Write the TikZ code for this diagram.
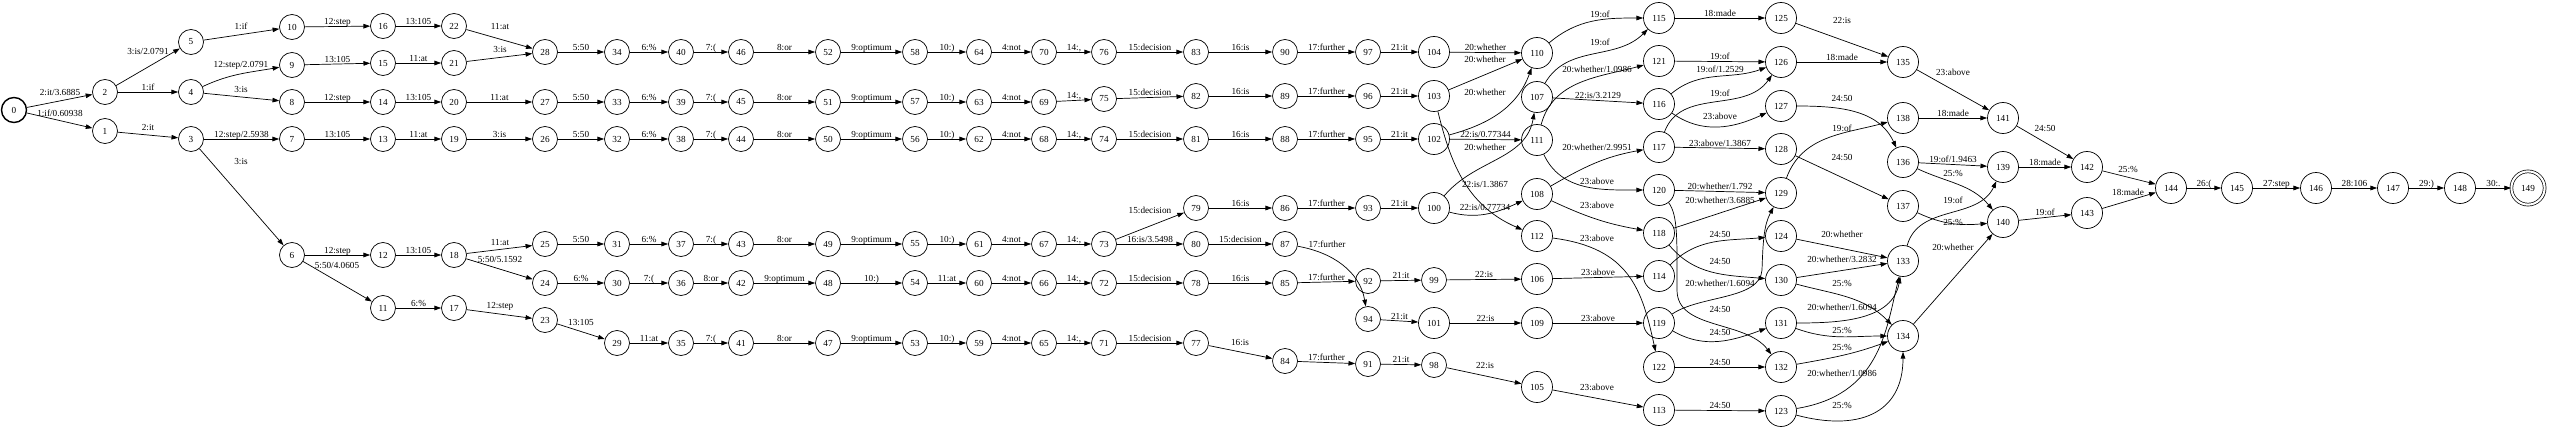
\documentclass[tikz,border=0pt]{standalone}
\usepackage{fontspec}
\setmainfont{Liberation Serif}
\usetikzlibrary{arrows.meta}
\tikzset{
  st/.style={circle, draw, line width=0.8pt, minimum size=1cm, inner sep=0pt, font=\fontsize{10.5}{12}\selectfont},
  stw/.style={st, minimum size=1.24cm},
  init/.style={st, line width=1.6pt},
  fin/.style={stw, minimum size=1.33cm, double, double distance=2.4pt},
  tr/.style={line width=0.8pt, -{Triangle[length=7.6pt,width=5.2pt]}},
  lab/.style={anchor=base, yshift=2pt, inner sep=0pt, font=\fontsize{10.5}{12}\selectfont},
  lb/.style={inner sep=0pt, font=\fontsize{10.5}{12}\selectfont}
}
\begin{document}
\begin{tikzpicture}[x=0.04cm, y=0.04cm]
    \useasboundingbox (0,0) rectangle (2550,-429);
    % states, column by column
    \node[init] (n0) at (14,-110) {0};
    \node[st] (n2) at (105,-92) {2};
    \node[st] (n1) at (105,-131) {1};
    \node[st] (n5) at (191,-42) {5};
    \node[st] (n4) at (191,-92) {4};
    \node[st] (n3) at (191,-139) {3};
    \node[st] (n10) at (292,-27) {10};
    \node[st] (n9) at (292,-65) {9};
    \node[st] (n8) at (292,-102) {8};
    \node[st] (n7) at (292,-139) {7};
    \node[st] (n6) at (292,-255) {6};
    \node[st] (n16) at (383,-26) {16};
    \node[st] (n15) at (383,-63) {15};
    \node[st] (n14) at (383,-102) {14};
    \node[st] (n13) at (383,-139) {13};
    \node[st] (n12) at (383,-255) {12};
    \node[st] (n11) at (383,-308) {11};
    \node[st] (n22) at (454,-26) {22};
    \node[st] (n21) at (454,-63) {21};
    \node[st] (n20) at (454,-102) {20};
    \node[st] (n19) at (454,-139) {19};
    \node[st] (n18) at (454,-255) {18};
    \node[st] (n17) at (454,-308) {17};
    \node[st] (n28) at (545,-52) {28};
    \node[st] (n27) at (545,-102) {27};
    \node[st] (n26) at (545,-139) {26};
    \node[st] (n25) at (545,-244) {25};
    \node[st] (n24) at (545,-283) {24};
    \node[st] (n23) at (545,-320) {23};
    \node[st] (n34) at (617,-52) {34};
    \node[st] (n33) at (617,-102) {33};
    \node[st] (n32) at (617,-139) {32};
    \node[st] (n31) at (617,-244) {31};
    \node[st] (n30) at (617,-283) {30};
    \node[st] (n29) at (617,-343) {29};
    \node[st] (n40) at (681,-52) {40};
    \node[st] (n39) at (681,-102) {39};
    \node[st] (n38) at (681,-139) {38};
    \node[st] (n37) at (681,-244) {37};
    \node[st] (n36) at (681,-283) {36};
    \node[st] (n35) at (681,-343) {35};
    \node[st] (n46) at (741,-52) {46};
    \node[st] (n45) at (741,-102) {45};
    \node[st] (n44) at (741,-139) {44};
    \node[st] (n43) at (741,-244) {43};
    \node[st] (n42) at (741,-283) {42};
    \node[st] (n41) at (741,-343) {41};
    \node[st] (n52) at (828,-52) {52};
    \node[st] (n51) at (828,-102) {51};
    \node[st] (n50) at (828,-139) {50};
    \node[st] (n49) at (828,-244) {49};
    \node[st] (n48) at (828,-283) {48};
    \node[st] (n47) at (828,-343) {47};
    \node[st] (n58) at (915,-52) {58};
    \node[st] (n57) at (915,-102) {57};
    \node[st] (n56) at (915,-139) {56};
    \node[st] (n55) at (915,-244) {55};
    \node[st] (n54) at (915,-283) {54};
    \node[st] (n53) at (915,-343) {53};
    \node[st] (n64) at (979,-52) {64};
    \node[st] (n63) at (979,-102) {63};
    \node[st] (n62) at (979,-139) {62};
    \node[st] (n61) at (979,-244) {61};
    \node[st] (n60) at (979,-283) {60};
    \node[st] (n59) at (979,-343) {59};
    \node[st] (n70) at (1044,-52) {70};
    \node[st] (n69) at (1044,-102) {69};
    \node[st] (n68) at (1044,-139) {68};
    \node[st] (n67) at (1044,-244) {67};
    \node[st] (n66) at (1044,-283) {66};
    \node[st] (n65) at (1044,-343) {65};
    \node[st] (n76) at (1104,-52) {76};
    \node[st] (n75) at (1104,-99) {75};
    \node[st] (n74) at (1104,-139) {74};
    \node[st] (n73) at (1104,-244) {73};
    \node[st] (n72) at (1104,-283) {72};
    \node[st] (n71) at (1104,-343) {71};
    \node[st] (n83) at (1196,-52) {83};
    \node[st] (n82) at (1196,-96) {82};
    \node[st] (n81) at (1196,-139) {81};
    \node[st] (n79) at (1196,-208) {79};
    \node[st] (n80) at (1196,-244) {80};
    \node[st] (n78) at (1196,-283) {78};
    \node[st] (n77) at (1196,-343) {77};
    \node[st] (n90) at (1285,-52) {90};
    \node[st] (n89) at (1285,-96) {89};
    \node[st] (n88) at (1285,-139) {88};
    \node[st] (n86) at (1285,-208) {86};
    \node[st] (n87) at (1285,-244) {87};
    \node[st] (n85) at (1285,-283) {85};
    \node[st] (n84) at (1285,-361) {84};
    \node[st] (n97) at (1368,-52) {97};
    \node[st] (n96) at (1368,-96) {96};
    \node[st] (n95) at (1368,-139) {95};
    \node[st] (n93) at (1368,-208) {93};
    \node[st] (n92) at (1368,-281) {92};
    \node[st] (n94) at (1368,-319) {94};
    \node[st] (n91) at (1368,-364) {91};
    \node[stw] (n104) at (1434,-52) {104};
    \node[stw] (n103) at (1434,-96) {103};
    \node[stw] (n102) at (1434,-139) {102};
    \node[stw] (n100) at (1434,-208) {100};
    \node[st] (n99) at (1434,-280) {99};
    \node[stw] (n101) at (1434,-323) {101};
    \node[st] (n98) at (1434,-365) {98};
    \node[stw] (n110) at (1537,-53) {110};
    \node[stw] (n107) at (1537,-97) {107};
    \node[stw] (n111) at (1537,-140) {111};
    \node[stw] (n108) at (1537,-194) {108};
    \node[stw] (n112) at (1537,-236) {112};
    \node[stw] (n106) at (1537,-279) {106};
    \node[stw] (n109) at (1537,-323) {109};
    \node[stw] (n105) at (1537,-387) {105};
    \node[stw] (n115) at (1659,-18) {115};
    \node[stw] (n121) at (1659,-61) {121};
    \node[stw] (n116) at (1659,-104) {116};
    \node[stw] (n117) at (1659,-147) {117};
    \node[stw] (n120) at (1659,-190) {120};
    \node[stw] (n118) at (1659,-233) {118};
    \node[stw] (n114) at (1659,-276) {114};
    \node[stw] (n119) at (1659,-323) {119};
    \node[stw] (n122) at (1659,-367) {122};
    \node[stw] (n113) at (1659,-410) {113};
    \node[stw] (n125) at (1781,-18) {125};
    \node[stw] (n126) at (1781,-62) {126};
    \node[stw] (n127) at (1781,-106) {127};
    \node[stw] (n128) at (1781,-149) {128};
    \node[stw] (n129) at (1781,-193) {129};
    \node[stw] (n124) at (1781,-236) {124};
    \node[stw] (n130) at (1781,-280) {130};
    \node[stw] (n131) at (1781,-323) {131};
    \node[stw] (n132) at (1781,-367) {132};
    \node[stw] (n123) at (1781,-411) {123};
    \node[stw] (n135) at (1903,-62) {135};
    \node[stw] (n138) at (1903,-118) {138};
    \node[stw] (n136) at (1903,-162) {136};
    \node[stw] (n137) at (1903,-206) {137};
    \node[stw] (n133) at (1903,-261) {133};
    \node[stw] (n134) at (1903,-336) {134};
    \node[stw] (n141) at (2003,-118) {141};
    \node[stw] (n139) at (2003,-167) {139};
    \node[stw] (n140) at (2003,-222) {140};
    \node[stw] (n142) at (2087,-167) {142};
    \node[stw] (n143) at (2087,-213) {143};
    \node[stw] (n144) at (2171,-188) {144};
    \node[stw] (n145) at (2237,-188) {145};
    \node[stw] (n146) at (2316,-188) {146};
    \node[stw] (n147) at (2393,-188) {147};
    \node[stw] (n148) at (2460,-188) {148};
    \node[fin] (n149) at (2528,-188) {149};
    % arcs
    \draw[tr] (n0) -- (n2) node[lb] at (60,-92) {2:it/3.6885};
    \draw[tr] (n0) -- (n1) node[lb] at (60,-113) {1:if/0.60938};
    \draw[tr] (n2) -- (n5) node[lb] at (148,-51) {3:is/2.0791};
    \draw[tr] (n2) -- node[lab] {1:if} (n4);
    \draw[tr] (n1) -- (n3) node[lb] at (148,-128) {2:it};
    \draw[tr] (n5) -- (n10) node[lb] at (241,-26) {1:if};
    \draw[tr] (n4) to[out=25,in=-170] (n9) node[lb] at (241,-65) {12:step/2.0791};
    \draw[tr] (n4) -- (n8) node[lb] at (241,-90) {3:is};
    \draw[tr] (n3) -- node[lab] {12:step/2.5938} (n7);
    \draw[tr] (n3) -- (n6) node[lb] at (241,-162) {3:is};
    \draw[tr] (n10) -- node[lab] {12:step} (n16);
    \draw[tr] (n9) -- node[lab] {13:105} (n15);
    \draw[tr] (n8) -- node[lab] {12:step} (n14);
    \draw[tr] (n7) -- node[lab] {13:105} (n13);
    \draw[tr] (n6) -- node[lab] {12:step} (n12);
    \draw[tr] (n6) -- (n11) node[lb] at (337,-265) {5:50/4.0605};
    \draw[tr] (n16) -- node[lab] {13:105} (n22);
    \draw[tr] (n15) -- node[lab] {11:at} (n21);
    \draw[tr] (n14) -- node[lab] {13:105} (n20);
    \draw[tr] (n13) -- node[lab] {11:at} (n19);
    \draw[tr] (n12) -- node[lab] {13:105} (n18);
    \draw[tr] (n11) -- node[lab] {6:\%} (n17);
    \draw[tr] (n22) -- (n28) node[lb] at (500,-27) {11:at};
    \draw[tr] (n21) -- (n28) node[lb] at (500,-50) {3:is};
    \draw[tr] (n20) -- node[lab] {11:at} (n27);
    \draw[tr] (n19) -- node[lab] {3:is} (n26);
    \draw[tr] (n18) -- (n25) node[lb] at (500,-243) {11:at};
    \draw[tr] (n18) -- (n24) node[lb] at (500,-259) {5:50/5.1592};
    \draw[tr] (n17) -- (n23) node[lb] at (500,-306) {12:step};
    \draw[tr] (n23) -- (n29) node[lb] at (581,-322) {13:105};
    \draw[tr] (n28) -- node[lab] {5:50} (n34);
    \draw[tr] (n27) -- node[lab] {5:50} (n33);
    \draw[tr] (n26) -- node[lab] {5:50} (n32);
    \draw[tr] (n25) -- node[lab] {5:50} (n31);
    \draw[tr] (n24) -- node[lab] {6:\%} (n30);
    \draw[tr] (n29) -- node[lab] {11:at} (n35);
    \draw[tr] (n34) -- node[lab] {6:\%} (n40);
    \draw[tr] (n33) -- node[lab] {6:\%} (n39);
    \draw[tr] (n32) -- node[lab] {6:\%} (n38);
    \draw[tr] (n31) -- node[lab] {6:\%} (n37);
    \draw[tr] (n30) -- node[lab] {7:(} (n36);
    \draw[tr] (n35) -- node[lab] {7:(} (n41);
    \draw[tr] (n40) -- node[lab] {7:(} (n46);
    \draw[tr] (n39) -- node[lab] {7:(} (n45);
    \draw[tr] (n38) -- node[lab] {7:(} (n44);
    \draw[tr] (n37) -- node[lab] {7:(} (n43);
    \draw[tr] (n36) -- node[lab] {8:or} (n42);
    \draw[tr] (n41) -- node[lab] {8:or} (n47);
    \draw[tr] (n46) -- node[lab] {8:or} (n52);
    \draw[tr] (n45) -- node[lab] {8:or} (n51);
    \draw[tr] (n44) -- node[lab] {8:or} (n50);
    \draw[tr] (n43) -- node[lab] {8:or} (n49);
    \draw[tr] (n42) -- node[lab] {9:optimum} (n48);
    \draw[tr] (n47) -- node[lab] {9:optimum} (n53);
    \draw[tr] (n52) -- node[lab] {9:optimum} (n58);
    \draw[tr] (n51) -- node[lab] {9:optimum} (n57);
    \draw[tr] (n50) -- node[lab] {9:optimum} (n56);
    \draw[tr] (n49) -- node[lab] {9:optimum} (n55);
    \draw[tr] (n48) -- node[lab] {10:)} (n54);
    \draw[tr] (n53) -- node[lab] {10:)} (n59);
    \draw[tr] (n58) -- node[lab] {10:)} (n64);
    \draw[tr] (n57) -- node[lab] {10:)} (n63);
    \draw[tr] (n56) -- node[lab] {10:)} (n62);
    \draw[tr] (n55) -- node[lab] {10:)} (n61);
    \draw[tr] (n54) -- node[lab] {11:at} (n60);
    \draw[tr] (n59) -- node[lab] {4:not} (n65);
    \draw[tr] (n64) -- node[lab] {4:not} (n70);
    \draw[tr] (n63) -- node[lab] {4:not} (n69);
    \draw[tr] (n62) -- node[lab] {4:not} (n68);
    \draw[tr] (n61) -- node[lab] {4:not} (n67);
    \draw[tr] (n60) -- node[lab] {4:not} (n66);
    \draw[tr] (n70) -- node[lab] {14:,} (n76);
    \draw[tr] (n69) -- node[lab] {14:,} (n75);
    \draw[tr] (n68) -- node[lab] {14:,} (n74);
    \draw[tr] (n67) -- node[lab] {14:,} (n73);
    \draw[tr] (n66) -- node[lab] {14:,} (n72);
    \draw[tr] (n65) -- node[lab] {14:,} (n71);
    \draw[tr] (n76) -- node[lab] {15:decision} (n83);
    \draw[tr] (n75) -- node[lab] {15:decision} (n82);
    \draw[tr] (n74) -- node[lab] {15:decision} (n81);
    \draw[tr] (n73) -- (n79) node[lb] at (1150,-210) {15:decision};
    \draw[tr] (n73) -- node[lab] {16:is/3.5498} (n80);
    \draw[tr] (n72) -- node[lab] {15:decision} (n78);
    \draw[tr] (n71) -- node[lab] {15:decision} (n77);
    \draw[tr] (n83) -- node[lab] {16:is} (n90);
    \draw[tr] (n82) -- node[lab] {16:is} (n89);
    \draw[tr] (n81) -- node[lab] {16:is} (n88);
    \draw[tr] (n79) -- node[lab] {16:is} (n86);
    \draw[tr] (n80) -- node[lab] {15:decision} (n87);
    \draw[tr] (n78) -- node[lab] {16:is} (n85);
    \draw[tr] (n77) -- (n84) node[lb] at (1240,-343) {16:is};
    \draw[tr] (n90) -- node[lab] {17:further} (n97);
    \draw[tr] (n89) -- node[lab] {17:further} (n96);
    \draw[tr] (n88) -- node[lab] {17:further} (n95);
    \draw[tr] (n86) -- node[lab] {17:further} (n93);
    \draw[tr] (n87) to[out=-10,in=100] (n94) node[lb] at (1327,-244) {17:further};
    \draw[tr] (n85) -- node[lab] {17:further} (n92);
    \draw[tr] (n84) -- node[lab] {17:further} (n91);
    \draw[tr] (n97) -- node[lab] {21:it} (n104);
    \draw[tr] (n96) -- node[lab] {21:it} (n103);
    \draw[tr] (n95) -- node[lab] {21:it} (n102);
    \draw[tr] (n93) -- node[lab] {21:it} (n100);
    \draw[tr] (n92) -- node[lab] {21:it} (n99);
    \draw[tr] (n94) -- node[lab] {21:it} (n101);
    \draw[tr] (n91) -- node[lab] {21:it} (n98);
    \draw[tr] (n104) -- node[lab] {20:whether} (n110);
    \draw[tr] (n103) -- (n110) node[lb] at (1485,-59) {20:whether};
    \draw[tr] (n102) to[out=15,in=-110] (n110) node[lb] at (1485,-92) {20:whether};
    \draw[tr] (n103) .. controls (1450,-160) and (1465,-205) .. (n112) node[lb] at (1485,-184) {22:is/1.3867};
    \draw[tr] (n102) -- node[lab] {22:is/0.77344} (n111);
    \draw[tr] (n100) to[out=50,in=-100] (n107) node[lb] at (1485,-147) {20:whether};
    \draw[tr] (n100) to[out=-15,in=-155] (n108) node[lb] at (1485,-207) {22:is/0.77734};
    \draw[tr] (n99) -- node[lab] {22:is} (n106);
    \draw[tr] (n101) -- node[lab] {22:is} (n109);
    \draw[tr] (n98) -- (n105) node[lb] at (1485,-366) {22:is};
    \draw[tr] (n110) to[out=40,in=180] (n115) node[lb] at (1600,-14) {19:of};
    \draw[tr] (n107) to[out=60,in=-135] (n115) node[lb] at (1600,-42) {19:of};
    \draw[tr] (n111) to[out=75,in=-165] (n121) node[lb] at (1597,-69) {20:whether/1.0986};
    \draw[tr] (n107) -- node[lab] {22:is/3.2129} (n116);
    \draw[tr] (n108) to[out=30,in=-170] (n117) node[lb] at (1597,-147) {20:whether/2.9951};
    \draw[tr] (n111) to[out=-65,in=180] (n120) node[lb] at (1597,-181) {23:above};
    \draw[tr] (n108) to[out=-25,in=170] (n118) node[lb] at (1597,-205) {23:above};
    \draw[tr] (n112) .. controls (1630,-248) and (1642,-290) .. (n122) node[lb] at (1597,-238) {23:above};
    \draw[tr] (n106) -- node[lab] {23:above} (n114);
    \draw[tr] (n109) -- node[lab] {23:above} (n119);
    \draw[tr] (n105) -- (n113) node[lb] at (1597,-387) {23:above};
    \draw[tr] (n115) -- node[lab] {18:made} (n125);
    \draw[tr] (n121) -- node[lab] {19:of} (n126);
    \draw[tr] (n116) to[out=40,in=-160] (n126) node[lb] at (1720,-69) {19:of/1.2529};
    \draw[tr] (n117) to[out=70,in=-125] (n126) node[lb] at (1720,-93) {19:of};
    \draw[tr] (n116) to[out=-35,in=-155] (n127) node[lb] at (1720,-116) {23:above};
    \draw[tr] (n117) -- node[lab] {23:above/1.3867} (n128);
    \draw[tr] (n120) -- node[lab] {20:whether/1.792} (n129);
    \draw[tr] (n118) -- (n129) node[lb] at (1720,-200) {20:whether/3.6885};
    \draw[tr] (n114) to[out=45,in=-175] (n124) node[lb] at (1720,-234) {24:50};
    \draw[tr] (n118) to[out=-50,in=175] (n130) node[lb] at (1720,-261) {24:50};
    \draw[tr] (n119) .. controls (1700,-295) and (1760,-300) .. (1762,-270) .. controls (1763,-240) and (1764,-225) .. (n129) node[lb] at (1720,-283) {20:whether/1.6094};
    \draw[tr] (n120) .. controls (1678,-215) and (1677,-240) .. (1677,-290) .. controls (1677,-330) and (1745,-320) .. (n132) node[lb] at (1720,-309) {24:50};
    \draw[tr] (n119) to[out=-30,in=-160] (n131) node[lb] at (1720,-332) {24:50};
    \draw[tr] (n122) -- node[lab] {24:50} (n132);
    \draw[tr] (n113) -- node[lab] {24:50} (n123);
    \draw[tr] (n125) -- (n135) node[lb] at (1842,-21) {22:is};
    \draw[tr] (n126) -- node[lab] {18:made} (n135);
    \draw[tr] (n127) to[out=0,in=115] (n136) node[lb] at (1842,-98) {24:50};
    \draw[tr] (n129) to[out=70,in=-165] (n138) node[lb] at (1842,-128) {19:of};
    \draw[tr] (n128) -- (n137) node[lb] at (1842,-157) {24:50};
    \draw[tr] (n124) -- (n133) node[lb] at (1842,-234) {20:whether};
    \draw[tr] (n130) -- (n133) node[lb] at (1842,-259) {20:whether/3.2832};
    \draw[tr] (n130) to[out=-15,in=135] (n134) node[lb] at (1842,-283) {25:\%};
    \draw[tr] (n131) to[out=0,in=-100] (n133) node[lb] at (1842,-307) {20:whether/1.6094};
    \draw[tr] (n131) to[out=-20,in=180] (n134) node[lb] at (1842,-330) {25:\%};
    \draw[tr] (n132) to[out=10,in=-160] (n134) node[lb] at (1842,-347) {25:\%};
    \draw[tr] (n123) .. controls (1880,-395) and (1886,-330) .. (n133) node[lb] at (1842,-373) {20:whether/1.0986};
    \draw[tr] (n123) to[out=-15,in=-90,looseness=1.3] (n134) node[lb] at (1842,-405) {25:\%};
    \draw[tr] (n135) -- (n141) node[lb] at (1953,-72) {23:above};
    \draw[tr] (n138) -- node[lab] {18:made} (n141);
    \draw[tr] (n136) -- node[lab] {19:of/1.9463} (n139);
    \draw[tr] (n136) to[out=-25,in=130] (n140) node[lb] at (1953,-173) {25:\%};
    \draw[tr] (n133) to[out=75,in=-115] (n139) node[lb] at (1953,-200) {19:of};
    \draw[tr] (n137) to[out=-25,in=-175] (n140) node[lb] at (1953,-222) {25:\%};
    \draw[tr] (n134) -- (n140) node[lb] at (1953,-247) {20:whether};
    \draw[tr] (n141) -- (n142) node[lb] at (2045,-128) {24:50};
    \draw[tr] (n139) -- node[lab] {18:made} (n142);
    \draw[tr] (n140) -- node[lab] {19:of} (n143);
    \draw[tr] (n142) -- (n144) node[lb] at (2128,-169) {25:\%};
    \draw[tr] (n143) -- (n144) node[lb] at (2128,-192) {18:made};
    \draw[tr] (n144) -- node[lab] {26:(} (n145);
    \draw[tr] (n145) -- node[lab] {27:step} (n146);
    \draw[tr] (n146) -- node[lab] {28:106} (n147);
    \draw[tr] (n147) -- node[lab] {29:)} (n148);
    \draw[tr] (n148) -- node[lab] {30:.} (n149);
\end{tikzpicture}
\end{document}
